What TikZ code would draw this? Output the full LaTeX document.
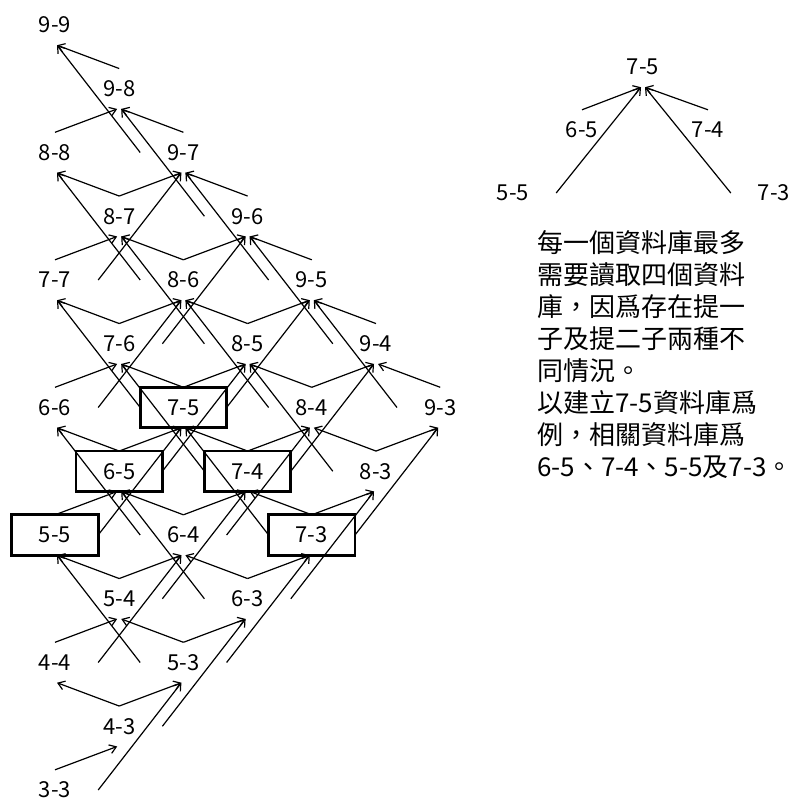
\documentclass[tikz,border=0pt]{standalone}
\usepackage{fontspec}
\setmainfont{Noto Sans CJK TC}
\usetikzlibrary{arrows.meta}

\tikzset{
  lbl/.style={minimum width=86pt, minimum height=40pt, inner sep=0pt, font=\fontsize{22}{26}\selectfont},
  dep/.style={line width=1.2pt, -{Straight Barb[length=6.5pt,width=9pt]}},
  keybox/.style={line width=2.8pt},
}

\begin{document}
\begin{tikzpicture}[x=1pt,y=-1pt]
\useasboundingbox (0,0) rectangle (791,800);

% databases i-j
\foreach \i in {3,...,9}
  \foreach \j in {3,...,\i}
    \node[lbl] (D\i\j) at ({55+64.2*(\i-\j)},{25+63.75*(18-\i-\j)}) {\i-\j};

% one step
\foreach \i in {4,...,9}
  \foreach \j in {3,...,\i}{
    \pgfmathtruncatemacro\im{\i-1}
    \pgfmathtruncatemacro\jm{\j-1}
    \ifnum\im<\j\else \draw[dep] (D\im\j.north) -- ([xshift=-2pt]D\i\j.south);\fi
    \ifnum\jm<3\else \draw[dep] (D\i\jm.north) -- ([xshift=2pt]D\i\j.south);\fi
  }

% two steps
\foreach \i in {5,...,9}
  \foreach \j in {3,...,\i}{
    \pgfmathtruncatemacro\imm{\i-2}
    \pgfmathtruncatemacro\jmm{\j-2}
    \ifnum\imm<\j\else \draw[dep] (D\imm\j.east) -- ([xshift=-2pt]D\i\j.south);\fi
    \ifnum\jmm<3\else \draw[dep] (D\i\jmm.west) -- ([xshift=2pt]D\i\j.south);\fi
  }

\foreach \n in {75,65,74,55,73}
  \draw[keybox] (D\n.south west) rectangle (D\n.north east);

% example on the right
\node[lbl] (R75) at (643,67) {7-5};
\node[lbl] (R65) at (582,130) {6-5};
\node[lbl] (R74) at (708,130) {7-4};
\node[lbl] (R55) at (513,193) {5-5};
\node[lbl] (R73) at (774,193) {7-3};
\draw[dep] (R65.north) -- ([xshift=-2pt]R75.south);
\draw[dep] (R74.north) -- ([xshift=2pt]R75.south);
\draw[dep] (R55.east) -- ([xshift=-2pt]R75.south);
\draw[dep] (R73.west) -- ([xshift=2pt]R75.south);

\node[font=\fontsize{26}{32}\selectfont, align=left, anchor=west, inner sep=0pt] (note) at (537,355)
  {每一個資料庫最多\\需要讀取四個資料\\庫，因爲存在提一\\子及提二子兩種不\\同情況。\\以建立7-5資料庫爲\\例，相關資料庫爲\\6-5、7-4、5-5及7-3。};

\end{tikzpicture}
\end{document}
